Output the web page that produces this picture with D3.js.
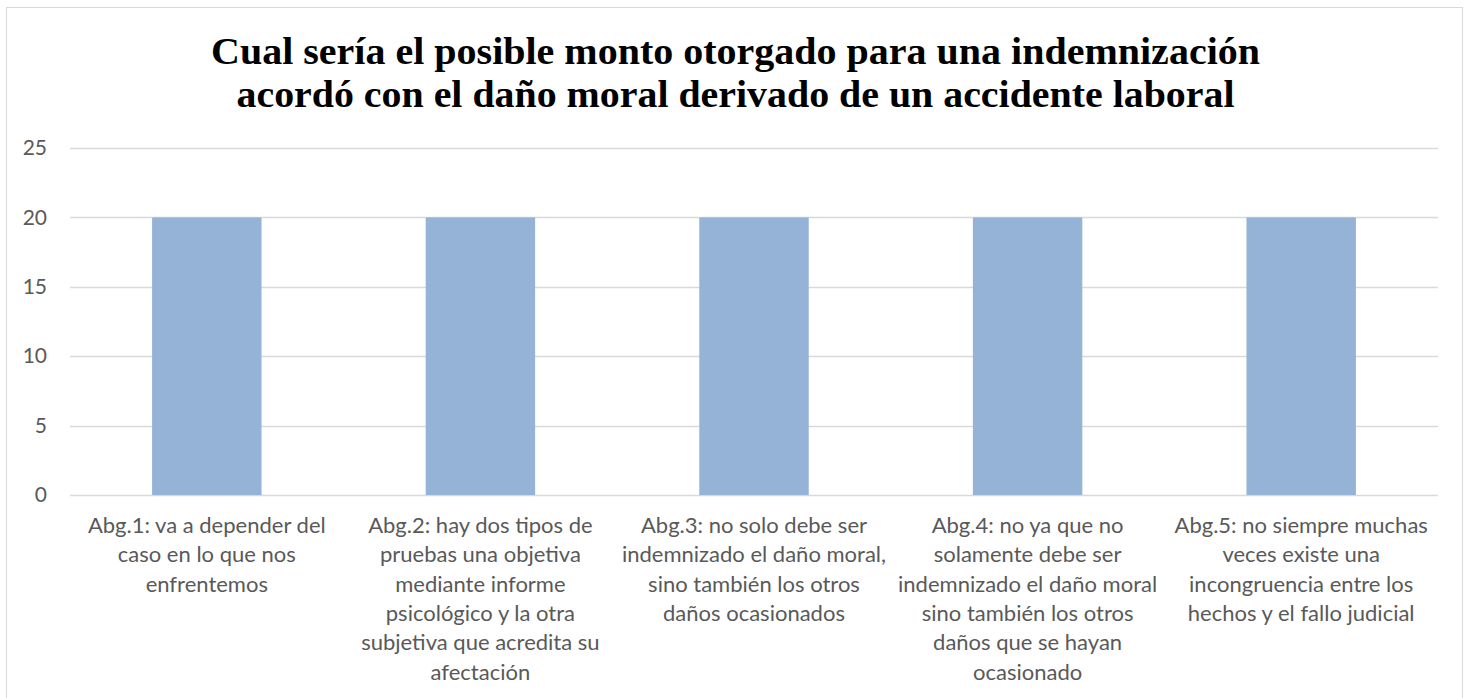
<!DOCTYPE html>
<html lang="es">
<head>
<meta charset="utf-8">
<script src="https://d3js.org/d3.v7.min.js"></script>
<style>
  body { margin: 0; background: #fff; }
  svg { display: block; }
</style>
</head>
<body>
<script>
// datos del grafico
var categorias = [
  ["Abg.1: va a depender del", "caso en lo que nos", "enfrentemos"],
  ["Abg.2: hay dos tipos de", "pruebas una objetiva", "mediante informe", "psicológico y la otra", "subjetiva que acredita su", "afectación"],
  ["Abg.3: no solo debe ser", "indemnizado el daño moral,", "sino también los otros", "daños ocasionados"],
  ["Abg.4: no ya que no", "solamente debe ser", "indemnizado el daño moral", "sino también los otros", "daños que se hayan", "ocasionado"],
  ["Abg.5: no siempre muchas", "veces existe una", "incongruencia entre los", "hechos y el fallo judicial"]
];
var valores = [20, 20, 20, 20, 20];
var ticks = [0, 5, 10, 15, 20, 25];
var titulo = ["Cual sería el posible monto otorgado  para una indemnización",
              "acordó con el daño moral derivado de un accidente laboral"];

var width = 1469, height = 698;
var margin = {left: 70, right: 31, top: 148, bottom: 203};

var svg = d3.select("body").append("svg")
    .attr("width", width)
    .attr("height", height);

svg.append("rect")
    .attr("x", 6.5).attr("y", 7.5)
    .attr("width", 1456).attr("height", 700)
    .attr("fill", "#fff")
    .attr("stroke", "#d9d9d9");

var x = d3.scaleBand()
    .domain(d3.range(categorias.length))
    .range([margin.left, width - margin.right])
    .padding(0);

var y = d3.scaleLinear()
    .domain([0, 25])
    .range([height - margin.bottom, margin.top]);

// lineas de cuadricula
svg.append("g")
    .selectAll("line")
    .data(ticks)
    .enter().append("line")
    .attr("x1", margin.left)
    .attr("x2", width - margin.right)
    .attr("y1", function (d) { return Math.round(y(d)) + 0.5; })
    .attr("y2", function (d) { return Math.round(y(d)) + 0.5; })
    .attr("stroke", "#d9d9d9")
    .attr("stroke-width", 1.3);

// eje y
var yAxis = svg.append("g")
    .attr("transform", "translate(" + (margin.left - 23) + ",0)")
    .call(d3.axisLeft(y).tickValues(ticks).tickSize(0).tickPadding(0));
yAxis.select(".domain").remove();
yAxis.selectAll("text")
    .attr("font-family", "Lato, 'Open Sans', sans-serif")
    .attr("font-size", 21)
    .attr("fill", "#595959");

// barras
var barW = x.bandwidth() * 0.4;
svg.append("g")
    .selectAll("rect")
    .data(valores)
    .enter().append("rect")
    .attr("x", function (d, i) { return x(i) + x.bandwidth() / 2 - barW / 2; })
    .attr("y", function (d) { return y(d); })
    .attr("width", barW)
    .attr("height", function (d) { return y(0) - y(d); })
    .attr("fill", "#95b3d7");

// etiquetas de categoria
var lab = svg.append("g")
    .selectAll("text")
    .data(categorias)
    .enter().append("text")
    .attr("text-anchor", "middle")
    .attr("font-family", "Lato, 'Open Sans', sans-serif")
    .attr("font-size", 22)
    .attr("fill", "#595959");

lab.each(function (lines, i) {
    var t = d3.select(this);
    lines.forEach(function (l, j) {
        t.append("tspan")
            .attr("x", x(i) + x.bandwidth() / 2)
            .attr("y", y(0) + 38 + j * 29.3)
            .text(l);
    });
});

// titulo
svg.append("g")
    .selectAll("text")
    .data(titulo)
    .enter().append("text")
    .attr("x", 735.5)
    .attr("y", function (d, i) { return 64 + i * 43; })
    .attr("text-anchor", "middle")
    .attr("font-family", "'Liberation Serif', serif")
    .attr("font-weight", "bold")
    .attr("font-size", 37)
    .attr("fill", "#000")
    .text(function (d) { return d; })
    .attr("textLength", function (d, i) { return i === 0 ? 1049 : 998; })
    .attr("lengthAdjust", "spacingAndGlyphs");
</script>
</body>
</html>
